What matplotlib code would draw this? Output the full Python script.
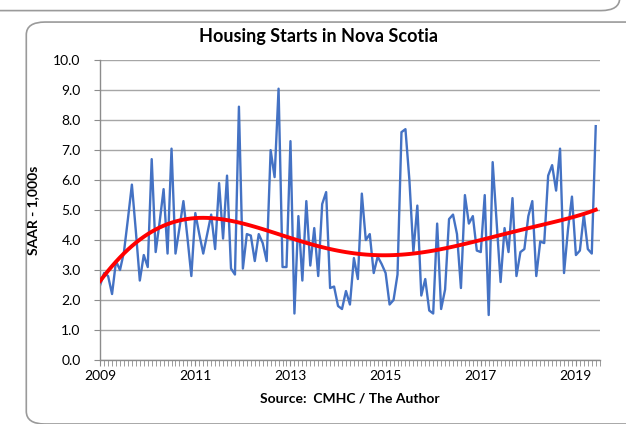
import numpy as np
import matplotlib.pyplot as plt
from matplotlib.patches import FancyBboxPatch
from matplotlib.ticker import MultipleLocator

# monthly housing starts, SAAR thousands, Jan 2009 .. Jun 2019
starts = [
    2.5, 2.9, 2.8, 2.2, 3.3, 3.0, 3.6, 4.7, 5.85, 4.3, 2.65, 3.5,   # 2009
    3.1, 6.7, 3.6, 4.6, 5.7, 3.55, 7.05, 3.55, 4.4, 5.3, 4.1, 2.8,  # 2010
    4.9, 4.2, 3.55, 4.2, 4.85, 3.7, 5.9, 4.05, 6.15, 3.05, 2.85, 8.45,  # 2011
    3.05, 4.2, 4.15, 3.3, 4.2, 3.9, 3.3, 7.0, 6.1, 9.05, 3.1, 3.1,  # 2012
    7.3, 1.55, 4.8, 2.65, 5.3, 3.15, 4.4, 2.8, 5.2, 5.6, 2.4, 2.45,  # 2013
    1.8, 1.7, 2.3, 1.85, 3.4, 2.7, 5.55, 4.0, 4.2, 2.9, 3.45, 3.2,  # 2014
    2.9, 1.85, 2.0, 2.85, 7.6, 7.7, 6.0, 3.6, 5.15, 2.15, 2.7, 1.65,  # 2015
    1.55, 4.55, 1.7, 2.35, 4.7, 4.85, 4.2, 2.4, 5.5, 4.55, 4.8, 3.65,  # 2016
    3.6, 5.5, 1.5, 6.6, 4.6, 2.6, 4.4, 3.6, 5.4, 2.8, 3.6, 3.7,  # 2017
    4.8, 5.3, 2.8, 3.95, 3.9, 6.15, 6.5, 5.65, 7.05, 2.9, 4.35, 5.45,  # 2018
    3.5, 3.65, 4.85, 3.7, 3.55, 7.8,  # 2019
]
year_start = 2009
tick_years = [2009, 2011, 2013, 2015, 2017, 2019]

t = year_start + np.arange(len(starts)) / 12
# polynomial trendline like the spreadsheet one
coef = np.polyfit(t - t.mean(), starts, 6)
trend = np.polyval(coef, t - t.mean())

plt.rcParams['font.family'] = ['Lato', 'DejaVu Sans']

fig = plt.figure(figsize=(6.26, 4.24), dpi=100)

# chart frames
fig.patches.append(FancyBboxPatch((0.042, 0.0), 0.99, 0.948, boxstyle='round,pad=0,rounding_size=0.03',
                                  transform=fig.transFigure, fill=False, ec='#9a9a9a', lw=1.2))
fig.patches.append(FancyBboxPatch((-0.05, 0.975), 1.04, 0.2, boxstyle='round,pad=0,rounding_size=0.03',
                                  transform=fig.transFigure, fill=False, ec='#9a9a9a', lw=1.2))

ax = fig.add_axes([0.16, 0.151, 0.798, 0.707])
ax.plot(t, starts, color='#4472C4', lw=1.7, zorder=2)
ax.plot(t, trend, color='#FF0000', lw=2.8, zorder=3)

ax.set_xlim(2009, 2019.5)
ax.set_ylim(0, 10)
ax.yaxis.set_major_locator(MultipleLocator(1))
ax.set_yticklabels([f'{v:.1f}' for v in ax.get_yticks()])
ax.set_xticks(tick_years)
ax.xaxis.set_minor_locator(MultipleLocator(1 / 12))
ax.grid(axis='y', color='#a6a6a6', lw=1.0)
ax.set_axisbelow(True)

for s in ['top', 'right']:
    ax.spines[s].set_visible(False)
for s in ['left', 'bottom']:
    ax.spines[s].set_color('#8c8c8c')
    ax.spines[s].set_linewidth(1.0)
ax.tick_params(axis='x', which='both', length=4, color='#8c8c8c', labelsize=10, pad=3)
ax.tick_params(axis='y', length=4, color='#8c8c8c', labelsize=10, pad=10)

fig.suptitle('Housing Starts in Nova Scotia', x=0.508, y=0.935, fontsize=13, fontweight='bold')
ax.set_ylabel('SAAR - 1,000s', fontsize=10, fontweight='bold', labelpad=10)
ax.set_xlabel('Source:  CMHC / The Author', fontsize=10, fontweight='bold', labelpad=8)

fig.savefig('out.png', dpi=100)
